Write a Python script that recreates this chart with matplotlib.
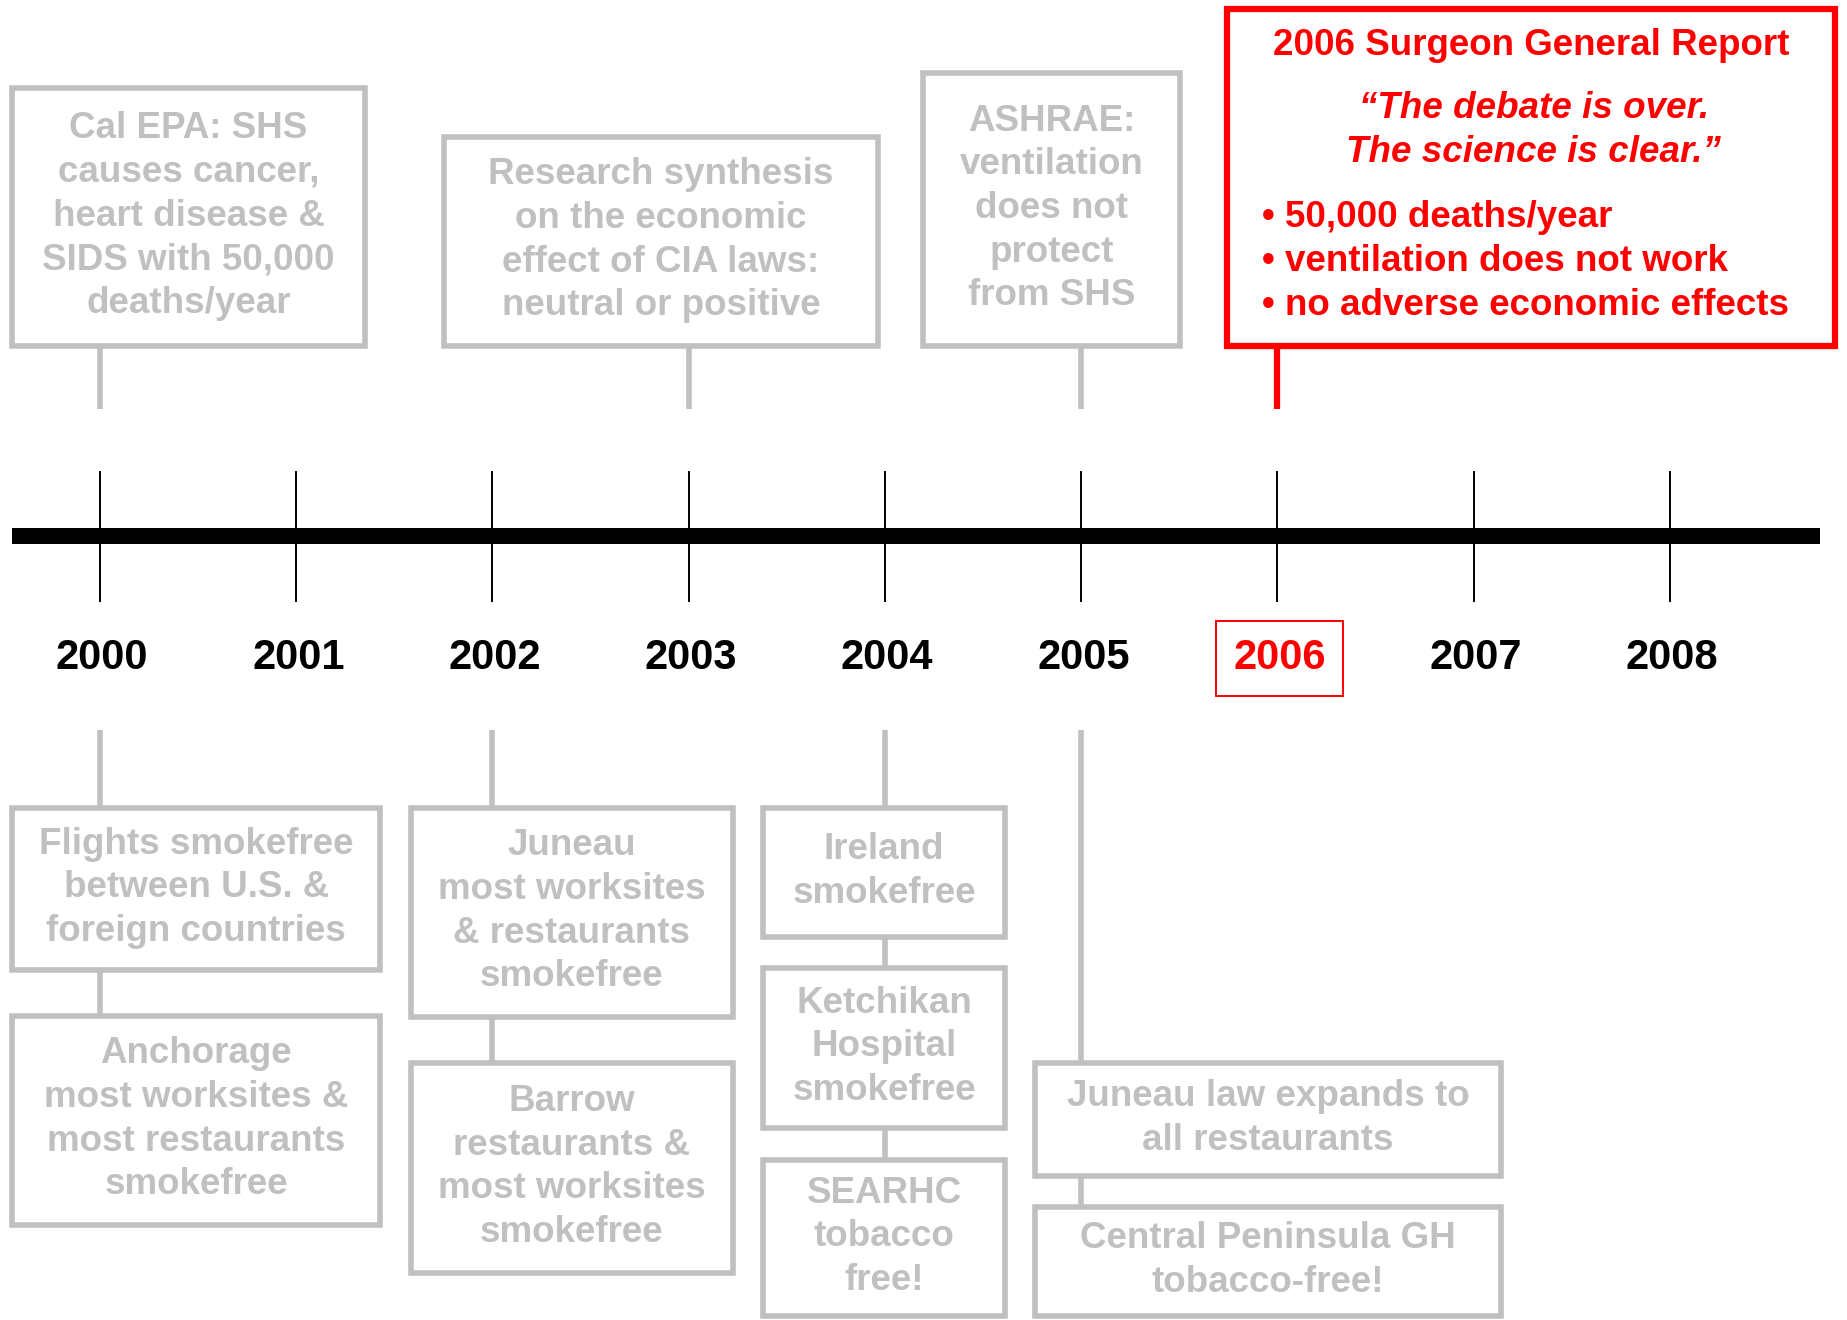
import matplotlib.pyplot as plt
from matplotlib.patches import Rectangle

plt.rcParams['font.family'] = ['Liberation Sans', 'DejaVu Sans']

# ---------------------------------------------------------------- data
years = [2000, 2001, 2002, 2003, 2004, 2005, 2006, 2007, 2008]
highlight_year = 2006

top_years = [2000, 2003, 2005]
top_texts = ["Cal EPA: SHS\ncauses cancer,\nheart disease &\nSIDS with 50,000\ndeaths/year",
             "Research synthesis\non the economic\neffect of CIA laws:\nneutral or positive",
             "ASHRAE:\nventilation\ndoes not\nprotect\nfrom SHS"]

bottom_years = [2000, 2002, 2004, 2005]
bottom_texts = [["Flights smokefree\nbetween U.S. &\nforeign countries",
                 "Anchorage\nmost worksites &\nmost restaurants\nsmokefree"],
                ["Juneau\nmost worksites\n& restaurants\nsmokefree",
                 "Barrow\nrestaurants &\nmost worksites\nsmokefree"],
                ["Ireland\nsmokefree",
                 "Ketchikan\nHospital\nsmokefree",
                 "SEARHC\ntobacco\nfree!"],
                ["Juneau law expands to\nall restaurants",
                 "Central Peninsula GH\ntobacco-free!"]]

report_title = "2006 Surgeon General Report"
report_quote = "\u201cThe debate is over.\nThe science is clear.\u201d"
report_points = ["50,000 deaths/year", "ventilation does not work",
                 "no adverse economic effects"]

# ---------------------------------------------------------------- layout
# page laid out on a 1568 x 1121 grid, x axis in years
W, H = 1568, 1121
X2000, PX_YEAR = 84.8, 166.6
GRAY = '#c0c0c0'
RED = '#ff0000'
FS = 26.5
LS = 1.32


def yr(px):
    return 2000 + (px - X2000) / PX_YEAR


top_boxes = [(10, 310, 75, 294), (377, 745, 116, 294), (784, 1002, 62, 294)]
bottom_boxes = [[(10, 323, 686, 824), (10, 323, 863, 1040)],
                [(349, 622, 686, 864), (349, 622, 903, 1081)],
                [(648, 853, 686, 796), (648, 853, 822, 958), (648, 853, 985, 1118)],
                [(879, 1274, 903, 999), (879, 1274, 1025, 1118)]]

fig = plt.figure(figsize=(18.47, 13.20), dpi=100)
ax = fig.add_axes([0, 0, 1, 1])
ax.set_xlim(yr(0), yr(W))
ax.set_ylim(H, 0)
ax.axis('off')


def box(l, r, t, b, color, lw):
    ax.add_patch(Rectangle((yr(l), t), yr(r) - yr(l), b - t, fill=False,
                           ec=color, lw=lw, joinstyle='miter'))


# main timeline
ax.plot([yr(10), yr(1545)], [455, 455], color='black', lw=11.5,
        solid_capstyle='butt')
for y in years:
    ax.plot([y, y], [401, 510], color='black', lw=1.4)
    col = RED if y == highlight_year else 'black'
    kw = {}
    if y == highlight_year:
        kw['bbox'] = dict(boxstyle='square,pad=0.42', fc='none', ec=RED, lw=1.4)
    ax.text(y + 0.012, 559, str(y), ha='center', va='center', fontsize=30,
            fontweight='bold', color=col, **kw)

# events above the line
for y, txt, (l, r, t, b) in zip(top_years, top_texts, top_boxes):
    ax.plot([y, y], [b, 347], color=GRAY, lw=4, solid_capstyle='butt')
    box(l, r, t, b, GRAY, 4)
    ax.text(yr((l + r) / 2), (t + b) / 2 - 1, txt, ha='center', va='center',
            fontsize=FS, fontweight='bold', color=GRAY, linespacing=LS)

# events below the line
for y, txts, boxes in zip(bottom_years, bottom_texts, bottom_boxes):
    ax.plot([y, y], [620, boxes[0][2]], color=GRAY, lw=4, solid_capstyle='butt')
    for i, (txt, (l, r, t, b)) in enumerate(zip(txts, boxes)):
        if i > 0:
            ax.plot([y, y], [boxes[i - 1][3], t], color=GRAY, lw=4,
                    solid_capstyle='butt')
        box(l, r, t, b, GRAY, 4)
        ax.text(yr((l + r) / 2), (t + b) / 2 - 1, txt, ha='center', va='center',
                fontsize=FS, fontweight='bold', color=GRAY, linespacing=LS)

# 2006 report
ax.plot([highlight_year, highlight_year], [294, 347], color=RED, lw=4.5,
        solid_capstyle='butt')
box(1042, 1558, 8, 294, RED, 4.5)
ax.text(yr(1300), 39, report_title, ha='center', va='center', fontsize=FS,
        fontweight='bold', color=RED)
ax.text(yr(1302), 111, report_quote, ha='center', va='center', fontsize=FS,
        fontweight='bold', fontstyle='italic', color=RED, linespacing=LS)
ax.text(yr(1071), 222, '\n'.join('\u2022 ' + p for p in report_points),
        ha='left', va='center', fontsize=FS, fontweight='bold', color=RED,
        linespacing=LS)

fig.savefig('out.png', dpi=100)
